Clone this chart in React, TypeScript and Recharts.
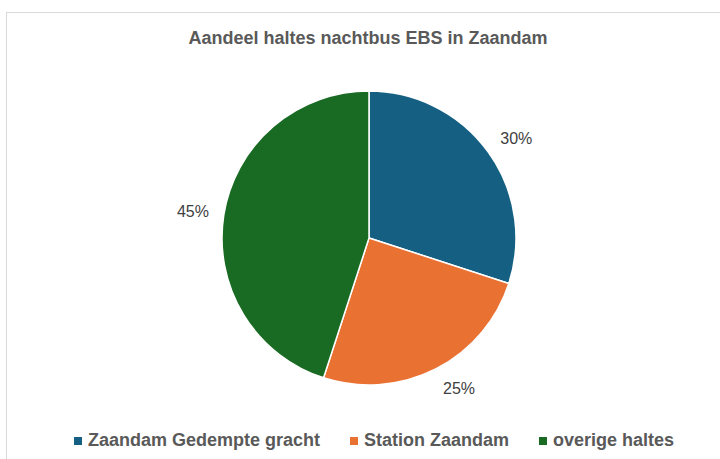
import React from "react";
import { PieChart, Pie, Cell, Legend } from "recharts";

const categories = ["Zaandam Gedempte gracht", "Station Zaandam", "overige haltes"];
const shares = [30, 25, 45];
const colors = ["#156082", "#E97132", "#196B24"];

const data = categories.map((name, i) => ({ name, value: shares[i], color: colors[i] }));

const RADIAN = Math.PI / 180;
const narrow = "'Liberation Sans Narrow', 'Arial Narrow', sans-serif";

// outside label, pushed out by half its box like Excel's best fit
const renderLabel = (props: any) => {
  const { cx, cy, midAngle, outerRadius, value } = props;
  const ux = Math.cos(-midAngle * RADIAN);
  const uy = Math.sin(-midAngle * RADIAN);
  const r = outerRadius + 14;
  const x = cx + r * ux + 17 * Math.sign(ux);
  const y = cy + r * uy + 8 * uy;
  return (
    <text
      x={x}
      y={y}
      textAnchor="middle"
      dominantBaseline="central"
      fill="#404040"
      fontSize={16}
      fontFamily="'Liberation Sans', Arial, sans-serif"
    >
      {`${value}%`}
    </text>
  );
};

const renderLegend = () => (
  <div
    style={{
      display: "flex",
      justifyContent: "center",
      fontFamily: narrow,
      fontWeight: "bold",
      fontSize: 18,
      color: "#595959",
    }}
  >
    {data.map((d, i) => (
      <div key={d.name} style={{ display: "flex", alignItems: "center", marginLeft: i === 0 ? 0 : 30 }}>
        <span style={{ width: 8, height: 8, background: d.color, marginRight: 6, display: "inline-block" }} />
        <span>{d.name}</span>
      </div>
    ))}
  </div>
);

export default function App() {
  return (
    <div
      style={{
        position: "fixed",
        left: 0,
        top: 0,
        width: 720,
        height: 459,
        overflow: "hidden",
        background: "#ffffff",
      }}
    >
      <div
        style={{
          position: "absolute",
          left: 6,
          top: 12,
          width: 740,
          height: 470,
          borderLeft: "1px solid #d9d9d9",
          borderTop: "1px solid #d9d9d9",
        }}
      />
      <div
        style={{
          position: "absolute",
          top: 28,
          left: 0,
          width: 736,
          textAlign: "center",
          fontFamily: narrow,
          fontWeight: "bold",
          fontSize: 18,
          color: "#595959",
        }}
      >
        Aandeel haltes nachtbus EBS in Zaandam
      </div>
      <div style={{ position: "absolute", left: 0, top: 0 }}>
        <PieChart width={720} height={459}>
          <Pie
            data={data}
            dataKey="value"
            nameKey="name"
            cx={364}
            cy={233}
            outerRadius={147}
            startAngle={90}
            endAngle={-270}
            stroke="#ffffff"
            strokeWidth={1.5}
            label={renderLabel}
            labelLine={false}
            isAnimationActive={false}
          >
            {data.map((d) => (
              <Cell key={d.name} fill={d.color} />
            ))}
          </Pie>
          <Legend
            content={renderLegend}
            verticalAlign="bottom"
            wrapperStyle={{ bottom: 8, left: 0, width: 748 }}
          />
        </PieChart>
      </div>
    </div>
  );
}
